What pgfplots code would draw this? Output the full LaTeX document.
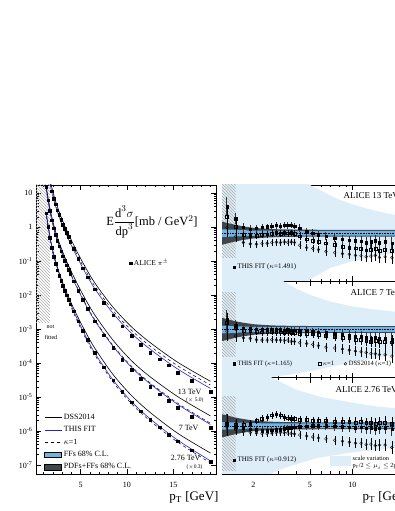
\documentclass[border=0pt]{standalone}
\usepackage{amsmath}
\usepackage{fontspec}
\setmainfont{Liberation Serif}
\usepackage{pgfplots}
\usepackage{pgfplotstable}
\usetikzlibrary{patterns}
\pgfplotsset{compat=1.18}

\definecolor{fitblue}{RGB}{35,35,225}
\definecolor{ffband}{RGB}{110,180,228}
\definecolor{pdfband}{RGB}{62,70,76}
\definecolor{scaleband}{RGB}{222,238,249}

% left panel: theory curves (pT, DSS2014, kappa=1, THIS FIT)
\pgfplotstableread{
pt dss kap fit
1.3 2.629 2.090 2.399
1.5 1.135 9.120e-1 1.047
1.7 5.373e-1 4.366e-1 5.012e-1
1.9 2.787e-1 2.265e-1 2.600e-1
2.3 1.001e-1 8.129e-2 9.333e-2
2.7 4.467e-2 3.589e-2 4.121e-2
3.1 2.212e-2 1.758e-2 2.018e-2
3.5 1.175e-2 9.119e-3 1.047e-2
4.25 4.072e-3 2.951e-3 3.388e-3
5.25 1.148e-3 7.763e-4 8.913e-4
6.5 2.818e-4 1.779e-4 2.042e-4
8.5 4.569e-5 2.754e-5 3.162e-5
10.5 1.097e-5 6.310e-6 7.244e-6
12.5 3.508e-6 1.973e-6 2.265e-6
15.5 8.415e-7 4.624e-7 5.309e-7
19 2.238e-7 1.148e-7 1.318e-7
}\thTwo
\pgfplotstableread{
pt dss kap fit
1.3 15.74 13.18 12.59
1.5 7.190 6.026 5.754
1.7 3.605 3.020 2.884
1.9 1.959 1.641 1.567
2.3 7.549e-1 6.166e-1 5.888e-1
2.7 3.491e-1 2.851e-1 2.723e-1
3.1 1.790e-1 1.462e-1 1.396e-1
3.5 9.725e-2 7.943e-2 7.586e-2
4.25 3.556e-2 2.786e-2 2.630e-2
5.25 1.030e-2 7.852e-3 7.413e-3
6.5 2.674e-3 1.928e-3 1.820e-3
8.5 4.678e-4 3.273e-4 3.090e-4
10.5 1.159e-4 7.943e-5 7.413e-5
12.5 3.917e-5 2.600e-5 2.427e-5
15.5 1.009e-5 6.457e-6 5.957e-6
19 2.767e-6 1.679e-6 1.549e-6
}\thSeven
\pgfplotstableread{
pt dss kap fit
1.3 109.6 91.20 79.43
1.5 51.29 42.66 37.15
1.7 26.30 21.88 19.05
1.9 14.62 12.16 10.59
2.3 5.888 4.842 4.169
2.7 2.786 2.291 1.972
3.1 1.462 1.202 1.035
3.5 8.128e-1 6.683e-1 5.754e-1
4.25 3.020e-1 2.455e-1 2.089e-1
5.25 8.913e-2 7.244e-2 6.166e-2
6.5 2.344e-2 1.905e-2 1.585e-2
8.5 4.365e-3 3.467e-3 2.884e-3
10.5 1.148e-3 9.120e-4 7.413e-4
12.5 3.981e-4 3.126e-4 2.541e-4
15.5 1.035e-4 8.128e-5 6.531e-5
19 2.884e-5 2.239e-5 1.778e-5
}\thThirteen

% ALICE pi+- data, left panel (13 TeV x5, 7 TeV, 2.76 TeV x0.3)
\pgfplotstableread{
pt a b c
1.3 123.0 15.10 2.518
1.5 48.31 6.209 1.026
1.7 21.33 2.972 4.764e-1
1.9 11.43 1.600 2.415e-1
2.1 6.934 9.204e-1 1.361e-1
2.3 4.667 5.888e-1 8.395e-2
2.5 3.112 3.890e-1 5.420e-2
2.7 2.270 2.748e-1 3.750e-2
2.9 1.656 1.928e-1 2.624e-2
3.1 1.191 1.396e-1 1.858e-2
3.3 9.078e-1 1.014e-1 1.358e-2
3.5 6.668e-1 7.586e-2 9.954e-3
3.7 5.164e-1 5.636e-2 7.362e-3
3.9 3.767e-1 4.178e-2 5.395e-3
4.25 2.296e-1 2.576e-2 3.319e-3
4.75 1.156e-1 1.340e-2 1.683e-3
5.25 6.166e-2 7.112e-3 8.913e-4
5.75 3.365e-2 3.873e-3 4.786e-4
6.5 1.489e-2 1.690e-3 2.042e-4
7.5 5.808e-3 6.516e-4 7.516e-5
8.5 2.512e-3 2.780e-4 3.097e-5
9.5 1.199e-3 1.271e-4 1.403e-5
10.5 6.223e-4 6.368e-5 6.950e-6
11.5 3.499e-4 3.499e-5 3.819e-6
12.5 2.032e-4 2.037e-5 2.153e-6
13.5 1.300e-4 1.213e-5 1.294e-6
14.5 8.590e-5 7.745e-6 7.816e-7
15.5 5.224e-5 4.819e-6 5.047e-7
17 2.979e-5 2.655e-6 2.704e-7
19 1.406e-5 1.239e-6 1.225e-7
}\alice

% ratio panels: data/THIS FIT (r, error e), data/kappa=1 (k), data/DSS2014 (d)
\pgfplotstableread{
pt r e k d
1.3 1.55 0.20 1.349 1.116
1.5 1.30 0.12 1.131 0.936
1.7 1.12 0.09 0.974 0.806
1.9 1.08 0.08 0.940 0.778
2.1 1.10 0.07 0.952 0.770
2.3 1.12 0.07 0.969 0.784
2.5 1.13 0.07 0.977 0.791
2.7 1.15 0.07 0.995 0.805
2.9 1.16 0.07 1.003 0.812
3.1 1.15 0.07 0.989 0.805
3.3 1.17 0.07 1.006 0.819
3.5 1.16 0.07 0.998 0.812
3.7 1.17 0.07 1.006 0.819
3.9 1.15 0.07 0.989 0.805
4.25 1.10 0.08 0.935 0.748
4.75 1.03 0.08 0.876 0.700
5.25 1.00 0.08 0.850 0.680
5.75 0.97 0.08 0.825 0.660
6.5 0.94 0.09 0.790 0.620
7.5 0.90 0.09 0.756 0.594
8.5 0.87 0.10 0.722 0.574
9.5 0.85 0.10 0.706 0.561
10.5 0.84 0.11 0.689 0.538
11.5 0.83 0.11 0.681 0.531
12.5 0.80 0.11 0.648 0.512
13.5 0.82 0.12 0.664 0.525
14.5 0.84 0.12 0.680 0.538
15.5 0.80 0.12 0.640 0.496
17 0.82 0.13 0.656 0.508
19 0.79 0.14 0.632 0.490
}\rThirteen
\pgfplotstableread{
pt r e k d
1.3 1.20 0.20 1.140 0.960
1.5 1.08 0.12 1.026 0.864
1.7 1.03 0.09 0.979 0.824
1.9 1.02 0.08 0.969 0.816
2.1 1.01 0.07 0.954 0.788
2.3 1.00 0.07 0.945 0.780
2.5 1.00 0.07 0.945 0.780
2.7 1.01 0.07 0.954 0.788
2.9 1.00 0.07 0.945 0.780
3.1 1.00 0.07 0.945 0.780
3.3 0.99 0.07 0.936 0.772
3.5 1.00 0.07 0.945 0.780
3.7 0.99 0.07 0.936 0.752
3.9 0.99 0.07 0.936 0.752
4.25 0.98 0.08 0.921 0.725
4.75 0.97 0.08 0.912 0.708
5.25 0.96 0.08 0.902 0.691
5.75 0.95 0.08 0.893 0.665
6.5 0.93 0.09 0.865 0.632
7.5 0.92 0.09 0.856 0.616
8.5 0.90 0.10 0.837 0.594
9.5 0.88 0.10 0.818 0.572
10.5 0.86 0.11 0.791 0.550
11.5 0.85 0.11 0.782 0.536
12.5 0.84 0.11 0.773 0.521
13.5 0.82 0.12 0.754 0.500
14.5 0.83 0.12 0.764 0.498
15.5 0.81 0.12 0.745 0.478
17 0.82 0.13 0.754 0.476
19 0.80 0.14 0.736 0.448
}\rSeven
\pgfplotstableread{
pt r e k d
1.3 1.05 0.20 1.05 0.98
1.5 0.98 0.12 1.02 0.92
1.7 0.95 0.09 1.02 0.88
1.9 0.93 0.08 1.05 0.86
2.1 0.92 0.07 1.10 0.85
2.3 0.90 0.07 1.15 0.84
2.5 0.90 0.07 1.18 0.84
2.7 0.91 0.07 1.22 0.85
2.9 0.92 0.07 1.24 0.86
3.1 0.92 0.07 1.22 0.86
3.3 0.94 0.07 1.18 0.86
3.5 0.95 0.07 1.16 0.85
3.7 0.96 0.07 1.15 0.84
3.9 0.97 0.07 1.14 0.83
4.25 0.98 0.08 1.12 0.81
4.75 0.99 0.08 1.12 0.79
5.25 1.00 0.08 1.11 0.77
5.75 1.00 0.08 1.10 0.75
6.5 1.00 0.09 1.10 0.73
7.5 0.99 0.09 1.09 0.70
8.5 0.98 0.10 1.08 0.68
9.5 0.97 0.10 1.08 0.66
10.5 0.96 0.11 1.07 0.64
11.5 0.97 0.11 1.08 0.64
12.5 0.95 0.11 1.06 0.61
13.5 0.96 0.12 1.07 0.62
14.5 0.94 0.12 1.05 0.59
15.5 0.95 0.12 1.06 0.60
17 0.96 0.13 1.07 0.60
19 0.93 0.14 1.04 0.55
}\rTwo

\pgfplotsset{
  boxframe/.style={scale only axis, anchor=south west, tick align=inside,
    major tick length=5pt, minor tick length=2.5pt,
    tick style={black, line width=0.4pt},
    axis line style={line width=0.6pt},
    tick label style={font=\fontsize{8}{9}\selectfont},
    xticklabel style={yshift=-5pt},
    legend cell align=left},
  rpanel/.style={boxframe, width=183pt, height=96.33pt,
    xmin=1.2, xmax=23.5, ymin=0, ymax=2,
    xtick={2,5,10}, xticklabels={}, minor xtick={3,4,6,7,8,9,20},
    ytick={0,0.5,1,1.5,2}, minor y tick num=4, yticklabels={},
    legend style={draw=none, fill=none, font=\fontsize{7}{8}\selectfont,
      anchor=south west, inner sep=0pt}},
  ferr/.style={only marks, mark=square*, mark size=1.2pt, black,
    error bars/y dir=both, error bars/y explicit, error bars/error mark=none,
    error bars/error bar style={line width=0.9pt, black!80}},
  oerr/.style={only marks, mark size=1.4pt, black, mark options={line width=0.4pt},
    error bars/y dir=both, error bars/y explicit, error bars/error mark=none,
    error bars/error bar style={line width=0.4pt}},
  ffs/.style={fill=ffband, draw=none, forget plot},
  pdfs/.style={fill=pdfband, draw=none, forget plot},
  hatch/.style={pattern=north west lines, pattern color=gray!65, draw=none, forget plot},
  unity/.style={black, densely dotted, line width=0.6pt, forget plot},
  dssl/.style={black, line width=0.6pt, smooth, forget plot},
  kapl/.style={black, dashed, line width=0.5pt, smooth, forget plot},
  fitl/.style={fitblue, line width=0.6pt, smooth, forget plot},
  pts/.style={only marks, mark=square*, mark size=1.3pt, black, forget plot},
}

\begin{document}
\begin{tikzpicture}
\useasboundingbox (0pt,0pt) rectangle (395pt,511pt);
\clip (0pt,0pt) rectangle (395pt,511pt);

% ---------------- left panel: spectra ----------------
\begin{axis}[boxframe, at={(36pt,37pt)}, width=180pt, height=289pt,
  xmin=0.2, xmax=19.6, ymode=log, ymin=5.4e-8, ymax=17.2,
  xtick={5,10,15}, xticklabels={5,10,15},
  minor xtick={1,2,3,4,6,7,8,9,11,12,13,14,16,17,18,19},
  ytick={1e-7,1e-6,1e-5,1e-4,1e-3,1e-2,1e-1,1,10},
  yticklabels={10\textsuperscript{-7},10\textsuperscript{-6},10\textsuperscript{-5},10\textsuperscript{-4},10\textsuperscript{-3},10\textsuperscript{-2},10\textsuperscript{-1},1,10},
  legend style={draw=none, fill=none, at={(0.045,0.005)}, anchor=south west,
    font=\fontsize{8}{9}\selectfont, row sep=1.5pt, inner sep=0pt}]
\addplot[hatch] coordinates {(0.2,1.6e-3) (1.7,1.6e-3) (1.7,30) (0.2,30)} --cycle;
\addplot[dssl] table[x=pt, y=dss] \thThirteen;
\addplot[kapl] table[x=pt, y=kap] \thThirteen;
\addplot[fitl] table[x=pt, y=fit] \thThirteen;
\addplot[dssl] table[x=pt, y=dss] \thSeven;
\addplot[kapl] table[x=pt, y=kap] \thSeven;
\addplot[fitl] table[x=pt, y=fit] \thSeven;
\addplot[dssl] table[x=pt, y=dss] \thTwo;
\addplot[kapl] table[x=pt, y=kap] \thTwo;
\addplot[fitl] table[x=pt, y=fit] \thTwo;
\addplot[pts] table[x=pt, y=a] \alice;
\addplot[pts] table[x=pt, y=b] \alice;
\addplot[pts] table[x=pt, y=c] \alice;
\addlegendimage{black, line width=0.6pt}
\addlegendentry{DSS2014}
\addlegendimage{fitblue, line width=0.6pt}
\addlegendentry{THIS FIT}
\addlegendimage{black, dashed, line width=0.5pt}
\addlegendentry{$\kappa$=1}
\addlegendimage{area legend, fill=ffband, draw=none}
\addlegendentry{FFs 68\% C.L.}
\addlegendimage{area legend, fill=pdfband, draw=none}
\addlegendentry{PDFs+FFs 68\% C.L.}
\end{axis}

% second legend of the left panel
\begin{axis}[at={(36pt,37pt)}, anchor=south west, scale only axis, width=180pt, height=289pt,
  hide axis, xmin=0, xmax=1, ymin=0, ymax=1,
  legend style={draw=none, fill=none, at={(0.517,0.73)}, anchor=west,
    font=\fontsize{7.5}{9}\selectfont, inner sep=0pt}]
\addlegendimage{only marks, mark=square*, mark size=1.3pt, black}
\addlegendentry{ALICE $\pi^{\pm}$}
\end{axis}

% ---------------- right panels: ratios ----------------
\begin{axis}[rpanel, xmode=log, at={(222pt,229.67pt)}, legend style={at={(0.06,0.09)}}]
\addplot[fill=scaleband, draw=none, forget plot] coordinates {(1.2,3.5) (2,2.9) (3,2.4) (4,2.15) (5,2.0) (6,1.88) (8,1.7) (10,1.6) (13,1.5) (17,1.42) (20,1.38) (23.5,1.35) (23.5,0.6) (20,0.58) (15,0.52) (10,0.42) (7,0.28) (5.3,0.08) (4.8,0) (3,-0.5) (1.2,-1.5)} --cycle;
\addplot[hatch] coordinates {(1.2,0.5) (1.5,0.5) (1.5,2.1) (1.2,2.1)} --cycle;
\addplot[pdfs] coordinates {(1.2,1.24) (1.5,1.17) (1.7,1.14) (2,1.11) (2.5,1.09) (3,1.08) (4,1.075) (6,1.07) (23.5,1.07) (23.5,0.93) (6,0.93) (4,0.925) (3,0.92) (2.5,0.91) (2,0.89) (1.7,0.86) (1.5,0.83) (1.2,0.76)} --cycle;
\addplot[ffs] coordinates {(1.2,1.08) (2,1.055) (3,1.05) (23.5,1.05) (23.5,0.95) (3,0.95) (2,0.945) (1.2,0.92)} --cycle;
\addplot[unity] coordinates {(1.2,1) (23.5,1)};
\addplot[oerr, mark=o, forget plot] table[x=pt, y=d, y error=e] \rThirteen;
\addplot[oerr, mark=square, forget plot] table[x=pt, y=k, y error=e] \rThirteen;
\addplot[ferr, forget plot] table[x=pt, y=r, y error=e] \rThirteen;
\addlegendimage{only marks, mark=square*, mark size=1.2pt, black}
\addlegendentry{THIS FIT ($\kappa$=1.491)}
\end{axis}

\begin{axis}[rpanel, xmode=log, at={(222pt,133.33pt)}, legend columns=3,
  legend style={at={(0.06,0.09)}, font=\fontsize{6.5}{7.5}\selectfont,
    /tikz/column 2/.style={column sep=24pt},
    /tikz/column 4/.style={column sep=8pt}}]
\addplot[fill=scaleband, draw=none, forget plot] coordinates {(1.2,3.5) (2,2.5) (2.6,2.2) (3.26,2.0) (4,1.85) (5,1.72) (7,1.58) (10,1.48) (14,1.42) (20,1.37) (23.5,1.35) (23.5,0.5) (20,0.47) (12,0.36) (8,0.26) (5.6,0.16) (3.5,0.06) (2.6,0) (2,-0.2) (1.2,-1)} --cycle;
\addplot[hatch] coordinates {(1.2,0.43) (1.5,0.43) (1.5,1.76) (1.2,1.76)} --cycle;
\addplot[pdfs] coordinates {(1.2,1.24) (1.5,1.17) (1.7,1.14) (2,1.11) (2.5,1.09) (3,1.08) (4,1.075) (6,1.07) (23.5,1.07) (23.5,0.93) (6,0.93) (4,0.925) (3,0.92) (2.5,0.91) (2,0.89) (1.7,0.86) (1.5,0.83) (1.2,0.76)} --cycle;
\addplot[ffs] coordinates {(1.2,1.08) (2,1.055) (3,1.05) (23.5,1.05) (23.5,0.95) (3,0.95) (2,0.945) (1.2,0.92)} --cycle;
\addplot[unity] coordinates {(1.2,1) (23.5,1)};
\addplot[oerr, mark=o, forget plot] table[x=pt, y=d, y error=e] \rSeven;
\addplot[oerr, mark=square, forget plot] table[x=pt, y=k, y error=e] \rSeven;
\addplot[ferr, forget plot] table[x=pt, y=r, y error=e] \rSeven;
\addlegendimage{only marks, mark=square*, mark size=1.2pt, black}
\addlegendentry{THIS FIT ($\kappa$=1.165)}
\addlegendimage{only marks, mark=square, mark size=1.4pt, black}
\addlegendentry{$\kappa$=1}
\addlegendimage{only marks, mark=o, mark size=1.4pt, black}
\addlegendentry{DSS2014 ($\kappa$=1)}
\end{axis}

\begin{axis}[rpanel, xmode=log, at={(222pt,37pt)}, xticklabels={2,5,10}, legend style={at={(0.06,0.09)}}]
\addplot[fill=scaleband, draw=none, forget plot] coordinates {(1.2,3.5) (2,2.4) (2.7,2.0) (4,1.75) (6,1.6) (10,1.48) (15,1.4) (20,1.37) (23.5,1.35) (23.5,0.56) (20,0.54) (10,0.45) (5.6,0.33) (3.5,0.15) (2.6,0) (2,-0.3) (1.2,-1.5)} --cycle;
\addplot[hatch] coordinates {(1.2,0.08) (1.5,0.08) (1.5,1.6) (1.2,1.6)} --cycle;
\addplot[pdfs] coordinates {(1.2,1.24) (1.5,1.17) (1.7,1.14) (2,1.11) (2.5,1.09) (3,1.08) (4,1.075) (6,1.07) (23.5,1.07) (23.5,0.93) (6,0.93) (4,0.925) (3,0.92) (2.5,0.91) (2,0.89) (1.7,0.86) (1.5,0.83) (1.2,0.76)} --cycle;
\addplot[ffs] coordinates {(1.2,1.08) (2,1.055) (3,1.05) (23.5,1.05) (23.5,0.95) (3,0.95) (2,0.945) (1.2,0.92)} --cycle;
\addplot[unity] coordinates {(1.2,1) (23.5,1)};
\addplot[oerr, mark=o, forget plot] table[x=pt, y=d, y error=e] \rTwo;
\addplot[oerr, mark=square, forget plot] table[x=pt, y=k, y error=e] \rTwo;
\addplot[ferr, forget plot] table[x=pt, y=r, y error=e] \rTwo;
\addlegendimage{only marks, mark=square*, mark size=1.2pt, black}
\addlegendentry{THIS FIT ($\kappa$=0.912)}
\end{axis}

% scale-variation legend of the bottom ratio panel
\begin{axis}[at={(222pt,37pt)}, anchor=south west, scale only axis, width=183pt, height=96.33pt,
  hide axis, xmin=0, xmax=1, ymin=0, ymax=1,
  legend style={draw=none, fill=none, at={(0.59,0.06)}, anchor=south west,
    font=\fontsize{6.3}{7}\selectfont, inner sep=0pt}]
\addlegendimage{legend image code/.code={\fill[scaleband] (0pt,-4.5pt) rectangle (20pt,4.5pt);}}
\addlegendentry{\begin{tabular}{@{}l@{}}scale variation\\ p\textsubscript{T}/2 $\le\mu_i\le$ 2p\textsubscript{T}\end{tabular}}
\end{axis}

% ---------------- texts ----------------
\node[font=\fontsize{12.5}{13}\selectfont] at (152pt,289pt)
  {E$\dfrac{\text{d}^3\sigma}{\text{dp}^3}$[mb / GeV$^2$]};
\node[anchor=west, font=\fontsize{6}{7}\selectfont] at (43pt,184pt) {not};
\node[anchor=west, font=\fontsize{6}{7}\selectfont] at (41pt,174pt) {fitted};
\node[anchor=east, font=\fontsize{8}{9}\selectfont] at (205pt,119pt) {13 TeV};
\node[anchor=east, font=\fontsize{5.5}{6}\selectfont] at (207pt,111pt) {($\times$ 5.0)};
\node[anchor=east, font=\fontsize{8}{9}\selectfont] at (202pt,83pt) {7 TeV};
\node[anchor=east, font=\fontsize{8}{9}\selectfont] at (204pt,53pt) {2.76 TeV};
\node[anchor=east, font=\fontsize{5.5}{6}\selectfont] at (206pt,44pt) {($\times$0.3)};
\node[anchor=west, font=\fontsize{9}{10}\selectfont] at (340pt,315pt) {ALICE 13 TeV};
\node[anchor=west, font=\fontsize{9}{10}\selectfont] at (347pt,218pt) {ALICE 7 TeV};
\node[anchor=west, font=\fontsize{9}{10}\selectfont] at (332pt,121pt) {ALICE 2.76 TeV};
\node[anchor=base east, font=\fontsize{13}{14}\selectfont] at (222pt,10pt) {p\textsubscript{T} [GeV]};
\node[anchor=base west, font=\fontsize{13}{14}\selectfont] at (359pt,10pt) {p\textsubscript{T} [GeV]};
\end{tikzpicture}
\end{document}
